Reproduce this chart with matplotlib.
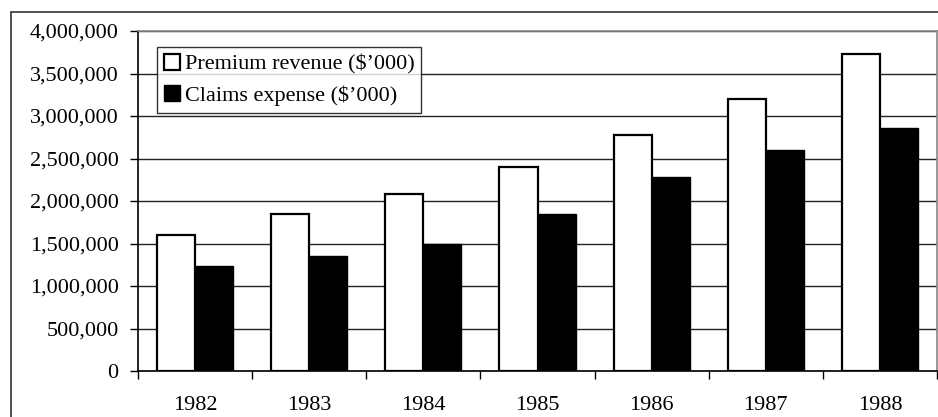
import numpy as np
import matplotlib.pyplot as plt
from matplotlib.patches import Rectangle, Patch
from matplotlib.ticker import FuncFormatter, FixedLocator

years = ['1982', '1983', '1984', '1985', '1986', '1987', '1988']
premium = [1600000, 1845000, 2080000, 2395000, 2775000, 3195000, 3730000]
claims = [1240000, 1350000, 1490000, 1850000, 2285000, 2595000, 2855000]

plt.rcParams['font.family'] = ['Liberation Serif', 'DejaVu Serif']

fig = plt.figure(figsize=(9.38, 4.17), dpi=100)
W, H = 938, 417

# outer chart frame (runs off the right and bottom edges)
fig.patches.append(Rectangle((11 / W, -0.05), 1.1, 1 - 12 / H + 0.05,
                             transform=fig.transFigure, fill=False,
                             edgecolor='#333333', linewidth=1.2))

ax = fig.add_axes([138 / W, 1 - 371 / H, 799 / W, 340 / H])

x = np.arange(len(years))
bw = 1 / 3
ax.bar(x - bw / 2, premium, bw, color='white', edgecolor='black', linewidth=1.6,
       zorder=3)
ax.bar(x + bw / 2, claims, bw, color='black', edgecolor='black', linewidth=1.0,
       zorder=3)

ax.set_xlim(-0.5, len(years) - 0.5)
ax.set_ylim(0, 4000000)
ax.set_yticks(np.arange(0, 4000001, 500000))
ax.yaxis.set_major_formatter(FuncFormatter(lambda v, p: f'{int(v):,}'))
ax.yaxis.grid(True, color='#222222', linewidth=1.0, zorder=0)
ax.set_axisbelow(True)

ax.set_xticks(x)
ax.set_xticklabels(years)
ax.xaxis.set_minor_locator(FixedLocator(np.arange(-0.5, len(years), 1)))
ax.tick_params(axis='x', which='major', length=0, pad=18, labelsize=16)
ax.tick_params(axis='x', which='minor', length=6, width=1, direction='out')
ax.tick_params(axis='y', length=6, width=1, direction='out', pad=8, labelsize=16)

for side in ['left', 'bottom']:
    ax.spines[side].set_color('black')
    ax.spines[side].set_linewidth(1.2)
for side in ['top', 'right']:
    ax.spines[side].set_color('#888888')
    ax.spines[side].set_linewidth(1.2)

handles = [Patch(facecolor='white', edgecolor='black', linewidth=1.6),
           Patch(facecolor='black', edgecolor='black')]
leg = ax.legend(handles, ["Premium revenue ($\u2019000)", "Claims expense ($\u2019000)"],
                loc='upper left', bbox_to_anchor=(19 / 799, 1 - 16 / 340),
                fontsize=16, frameon=True, fancybox=False, borderpad=0.3,
                handlelength=0.72, handleheight=0.72, handletextpad=0.22,
                labelspacing=0.5, borderaxespad=0)
leg.get_frame().set_edgecolor('black')
leg.get_frame().set_linewidth(1.0)
leg.set_zorder(5)

fig.savefig('out.png', dpi=100)
